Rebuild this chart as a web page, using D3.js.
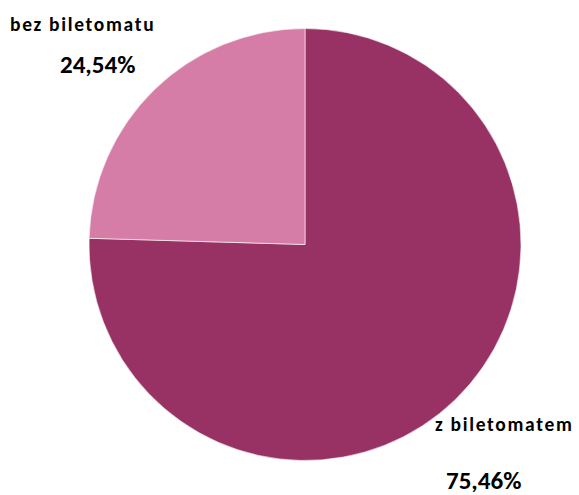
<!DOCTYPE html>
<html>
<head>
<meta charset="utf-8">
<script src="https://cdn.jsdelivr.net/npm/d3@7"></script>
<style>
  body { margin: 0; background: #fff; }
  text { font-family: Carlito, Lato, "Open Sans", sans-serif; font-weight: bold; fill: #000; }
</style>
</head>
<body>
<div class="pie-container"></div>
<script>
const categories = ['z biletomatem', 'bez biletomatu'];
const shares = [75.46, 24.54];
const shareLabels = ['75,46%', '24,54%'];
const colors = ['#983264', '#D57DA7'];

const outerWidth = 579;
const outerHeight = 495;
const center = {x: 305, y: 244.5};
const radius = 216;

const svg = d3.select('.pie-container').append('svg')
    .attr('width', outerWidth)
    .attr('height', outerHeight);

const data = categories.map((c, i) => ({name: c, value: shares[i], label: shareLabels[i], color: colors[i]}));

// Pie starts at 12 o'clock, clockwise, in data order
const pie = d3.pie().sort(null).value(d => d.value);
const arc = d3.arc().innerRadius(0).outerRadius(radius);

const g = svg.append('g')
    .attr('transform', `translate(${center.x}, ${center.y})`);

g.selectAll('path')
    .data(pie(data))
    .join('path')
    .attr('d', arc)
    .attr('fill', d => d.data.color)
    .attr('stroke', '#fff')
    .attr('stroke-width', 0.6);

// Labels sit outside the pie
const labelPos = [
    {name: [435, 431], value: [446, 488.5]},
    {name: [10, 31], value: [60, 73]}
];

data.forEach((d, i) => {
    svg.append('text')
        .attr('x', labelPos[i].name[0])
        .attr('y', labelPos[i].name[1])
        .style('font-size', '19.5px')
        .style('letter-spacing', '1.7px')
        .text(d.name);
    svg.append('text')
        .attr('x', labelPos[i].value[0])
        .attr('y', labelPos[i].value[1])
        .style('font-size', '25px')
        .text(d.label);
});
</script>
</body>
</html>
